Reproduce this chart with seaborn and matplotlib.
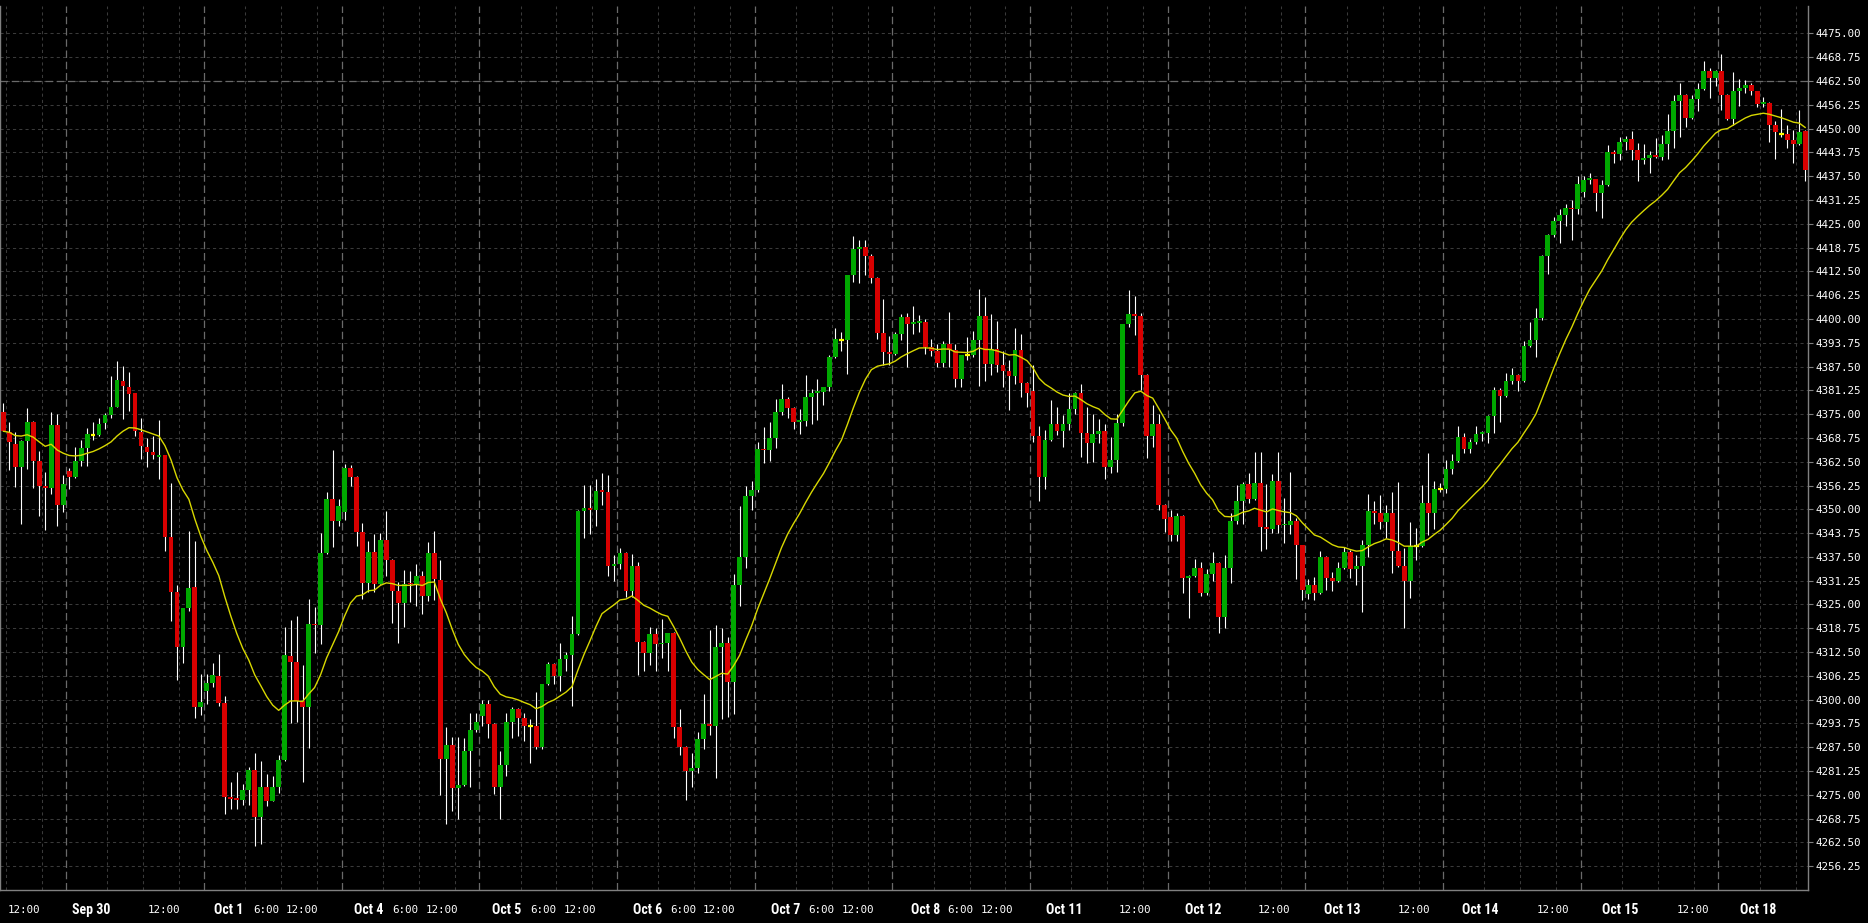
import numpy as np
import pandas as pd
import matplotlib
matplotlib.use("Agg")
import matplotlib.pyplot as plt
import matplotlib.transforms as mtransforms
from matplotlib import font_manager as fm
import seaborn as sns

# ---------------- data (hourly candles) ----------------
opens = [4375.5, 4370.25, 4367.25, 4361, 4368, 4373, 4362.75, 4356, 4355.5, 4372.25,
         4351, 4360, 4358.5, 4362.75, 4366, 4369.5, 4369.5, 4372.75, 4374.75, 4377,
         4383.75, 4382.25, 4380.5, 4370.25, 4366.25, 4365, 4363.75, 4364.25, 4342.75, 4328.25,
         4313.75, 4324, 4329.5, 4298, 4302.25, 4304.25, 4306.25, 4299.25, 4274.5, 4274,
         4273.75, 4276.25, 4281.5, 4269.25, 4277, 4273.5, 4277, 4284.25, 4311.5, 4310,
         4299.75, 4298, 4320, 4319.5, 4338.5, 4352.75, 4347, 4349.25, 4360.75, 4358.5,
         4344, 4330.75, 4338.75, 4330.5, 4342, 4336.75, 4328.5, 4325.5, 4330.75, 4330.25,
         4332.5, 4327.25, 4338.5, 4331.5, 4284.5, 4288, 4276.75, 4277.5, 4286.5, 4292,
         4295.75, 4298.75, 4293.5, 4277, 4282.75, 4294, 4297.5, 4295.25, 4293, 4293,
         4287.5, 4304, 4309.25, 4306.25, 4310.75, 4311.75, 4317.25, 4349.5, 4350.25, 4349.75,
         4354.75, 4354.5, 4335, 4335.75, 4338.5, 4328.5, 4335, 4315.25, 4312.25, 4317.25,
         4314.5, 4314.75, 4317.5, 4292.75, 4287.5, 4281.25, 4282, 4289.75, 4293.5, 4293,
         4313.75, 4315, 4304.75, 4330, 4337.5, 4353.5, 4355, 4365.75, 4365.5, 4368.75,
         4375.5, 4379, 4376.5, 4373, 4373.25, 4379.5, 4380.5, 4380.75, 4382.25, 4390,
         4394.5, 4394.5, 4411.5, 4418.5, 4419, 4416.5, 4410.75, 4396.25, 4391.25, 4390.75,
         4396, 4400.5, 4398.75, 4399, 4399.25, 4392.75, 4391.5, 4388.5, 4393.5, 4391.75,
         4384.25, 4390.5, 4390.5, 4394.5, 4400.75, 4388.25, 4392, 4388, 4386.25, 4385,
         4391.75, 4383.25, 4381, 4369.25, 4358.5, 4368.25, 4372.5, 4370.5, 4372.5, 4376.25,
         4380.5, 4370, 4367.5, 4369.75, 4370.5, 4361, 4363, 4372.75, 4398.75, 4401.25,
         4400.75, 4385.25, 4369.25, 4372.5, 4351, 4348, 4343.25, 4348.25, 4332, 4332.5,
         4334.5, 4328, 4333, 4336, 4321.75, 4334.5, 4347, 4352.25, 4356.75, 4352.75,
         4357, 4345.25, 4344.75, 4357.5, 4345.75, 4346, 4347, 4340.5, 4327.75, 4330,
         4328, 4337.5, 4332, 4331.25, 4334.5, 4338.75, 4334.25, 4335, 4340.5, 4349.5,
         4349, 4346.75, 4349, 4339, 4335, 4331.25, 4340.25, 4340.25, 4351.75, 4349,
         4355.25, 4355.25, 4360.5, 4362.75, 4369, 4365.75, 4367.75, 4369.75, 4370, 4374.5,
         4381.25, 4379.75, 4383.75, 4385.25, 4383.75, 4393, 4394.5, 4400.25, 4416.5, 4422,
         4425.75, 4427.25, 4429.25, 4428.75, 4433.25, 4436.5, 4436.75, 4433, 4435.25, 4443.75,
         4443.25, 4446.5, 4447.25, 4444.5, 4441.75, 4442.25, 4443, 4442.5, 4446, 4449.25,
         4457.25, 4458.75, 4452.75, 4457.75, 4460.5, 4465, 4463.25, 4465.25, 4458.75, 4452.5,
         4460, 4460.75, 4461.5, 4459.75, 4456.5, 4456.75, 4451, 4448.5, 4448.5, 4447,
         4446, 4449.25]
highs = [4378, 4373, 4370.25, 4368.25, 4376.5, 4373.25, 4365.25, 4359.75, 4375.5, 4375,
         4359, 4360.75, 4366.25, 4368.25, 4371.25, 4373, 4374, 4375.25, 4385, 4389,
         4387.75, 4386, 4380.5, 4374, 4368.75, 4369.25, 4373.5, 4364.25, 4357, 4330,
         4324, 4344.25, 4341.75, 4306.75, 4306.75, 4309.5, 4312, 4301, 4278.25, 4281,
         4277.75, 4282.25, 4286, 4284, 4280.5, 4280, 4285.5, 4319, 4321, 4322,
         4309, 4326.5, 4324.25, 4343.75, 4354.5, 4365.5, 4352.75, 4362, 4361.75, 4358.75,
         4346.5, 4341.75, 4343.5, 4343.75, 4349.5, 4337, 4331, 4334, 4333.75, 4335.5,
         4333.75, 4341.5, 4344.25, 4336.75, 4292.75, 4290.25, 4290.25, 4290, 4296.5, 4296.5,
         4300, 4300, 4293.75, 4286.5, 4296.5, 4298, 4297.75, 4296.5, 4295, 4302,
         4304, 4310, 4309.75, 4314.75, 4312.5, 4322, 4349.75, 4356.5, 4356.5, 4358,
         4359.5, 4359, 4338, 4339.75, 4338.75, 4338.25, 4336.25, 4315.5, 4319, 4318.75,
         4321.25, 4317.5, 4317.75, 4297.5, 4287.75, 4286, 4291.5, 4301.5, 4318.25, 4319.5,
         4318.75, 4316.5, 4333, 4350.75, 4356, 4357.5, 4367.75, 4371.5, 4373, 4379,
         4383, 4379.5, 4377, 4376.25, 4385.25, 4381.5, 4384.25, 4382.25, 4390.5, 4397.75,
         4396.5, 4411.5, 4421.75, 4420.75, 4420.75, 4417, 4411, 4405.25, 4395.5, 4396.5,
         4401.25, 4401.5, 4403.5, 4401, 4400, 4394.75, 4393.5, 4394.25, 4401.75, 4393.5,
         4390.5, 4395.25, 4396.75, 4407.75, 4405.75, 4401.25, 4399.5, 4391.5, 4389.25, 4397.75,
         4396, 4383.5, 4388, 4371.75, 4370.75, 4378.75, 4376.75, 4374.75, 4380.5, 4380.75,
         4383, 4377, 4375, 4373.75, 4372.5, 4369, 4375, 4398.75, 4407.5, 4406,
         4401.5, 4385.5, 4377.5, 4375, 4351.5, 4349.75, 4349, 4348.5, 4332.75, 4337,
         4336.25, 4334.25, 4338.75, 4336.25, 4338, 4349, 4356.5, 4357.25, 4359.5, 4365,
         4365, 4356.75, 4359.25, 4365, 4353, 4359.75, 4347.75, 4340.75, 4331.75, 4332.25,
         4339, 4337.75, 4333.5, 4336.25, 4340, 4339.25, 4338, 4342, 4354, 4352.25,
         4353.75, 4351.25, 4354.5, 4357.25, 4339.75, 4346.75, 4345, 4356.5, 4364.75, 4357.5,
         4357, 4363, 4364.5, 4371.75, 4370, 4368.5, 4372, 4370.5, 4374.75, 4382.25,
         4381.75, 4385.75, 4387, 4385.5, 4394.25, 4399.25, 4403, 4416.75, 4422.25, 4426.75,
         4428.75, 4430.25, 4431.25, 4437.5, 4437.5, 4438.25, 4436.75, 4436.5, 4445.75, 4444.25,
         4447.75, 4448, 4449.25, 4446.25, 4446, 4444, 4447.5, 4448.25, 4453.75, 4458.75,
         4462, 4459, 4458.75, 4462, 4467.75, 4466, 4465.5, 4469.5, 4459, 4464.75,
         4463, 4462.75, 4462, 4460, 4458.25, 4457, 4452, 4455.25, 4451, 4449.75,
         4455, 4449.5]
lows = [4370.5, 4360.25, 4355.75, 4346.25, 4360.5, 4355.5, 4348.25, 4344.5, 4354, 4345.5,
        4349.25, 4355.25, 4358.25, 4361.5, 4361.5, 4368.25, 4369.25, 4371, 4374, 4377,
        4373.75, 4375.75, 4369.25, 4363.25, 4361, 4363.25, 4358, 4339, 4320.75, 4305.25,
        4309.5, 4323.25, 4295.25, 4296, 4298.75, 4303.25, 4298.25, 4270, 4271.25, 4271.25,
        4272.25, 4272.25, 4261.5, 4262, 4272, 4273.25, 4275.5, 4284, 4293.75, 4294,
        4278.25, 4287.25, 4312.25, 4314.5, 4338.25, 4340, 4345.5, 4347.25, 4356.25, 4340.25,
        4326.5, 4328.25, 4328.25, 4330.25, 4332.5, 4320.25, 4314.75, 4319, 4325.75, 4324.5,
        4322.5, 4326, 4326.25, 4275, 4267.25, 4270.75, 4268.75, 4277.25, 4277, 4291.5,
        4293, 4290, 4275.25, 4268.75, 4280, 4290, 4290.5, 4289.25, 4283.25, 4287,
        4287, 4303.75, 4304, 4302.25, 4307.5, 4298.25, 4317, 4342.5, 4343.5, 4345.5,
        4351, 4332.5, 4331.25, 4334.25, 4327, 4327, 4306.5, 4307.5, 4309, 4307.5,
        4311, 4307.5, 4290, 4285.5, 4273.75, 4277, 4280.75, 4287, 4290.75, 4279.5,
        4295, 4295.5, 4296.25, 4324.5, 4334.5, 4349.75, 4354.5, 4362.25, 4362.75, 4366,
        4374.75, 4374, 4371, 4369.75, 4372, 4372.5, 4373.5, 4377.5, 4381, 4389.75,
        4391.5, 4385.5, 4409.75, 4409.5, 4411.5, 4409.5, 4394.75, 4388, 4388, 4390.5,
        4394.5, 4387.25, 4396, 4396.5, 4390.75, 4390.25, 4387.25, 4387.25, 4387.25, 4382.25,
        4382.25, 4389.25, 4390, 4382.5, 4383.75, 4385.25, 4386, 4382.25, 4376, 4383,
        4379.5, 4376.75, 4367.75, 4352.25, 4355.25, 4368, 4369.5, 4366.25, 4370.75, 4375,
        4363.75, 4362.25, 4362.5, 4367.5, 4358, 4359.5, 4359.75, 4372, 4398, 4395.75,
        4381.25, 4363.5, 4366.25, 4349.75, 4344, 4341.75, 4341.75, 4328, 4321.5, 4332.25,
        4327.25, 4327.5, 4331.25, 4317.5, 4318.75, 4330.75, 4346.25, 4346.25, 4351.75, 4352.5,
        4339, 4339.5, 4343.75, 4343.75, 4341.25, 4343.5, 4331.75, 4326.25, 4326.5, 4326.25,
        4327.75, 4328.75, 4328.5, 4331, 4334.25, 4332, 4330, 4323, 4337.5, 4346.25,
        4344.75, 4342.5, 4333.25, 4334.75, 4318.75, 4326.75, 4336.75, 4340, 4343.25, 4344.75,
        4354.5, 4354.25, 4359.25, 4362.5, 4364.75, 4364.75, 4367.25, 4368, 4367.5, 4370,
        4373, 4379.5, 4383, 4381, 4383.5, 4392.75, 4390, 4399.75, 4411.75, 4421.5,
        4420, 4424.5, 4420.75, 4427.5, 4432, 4435.5, 4428.25, 4426.5, 4435, 4441,
        4441.75, 4444.25, 4441.75, 4436.25, 4440.75, 4438.25, 4442.25, 4441.75, 4442, 4445,
        4447.75, 4450.5, 4452.5, 4454.5, 4460.25, 4458, 4461.25, 4455, 4452.25, 4451,
        4456, 4459.25, 4458.75, 4455.75, 4455.75, 4446.5, 4442, 4447.75, 4445, 4441,
        4445.75, 4436.25]
closes = [4370.5, 4367.75, 4361, 4368, 4373, 4362.75, 4356, 4355.5, 4372.25, 4351.25,
          4356.75, 4358.5, 4362.75, 4366, 4369.75, 4369.5, 4372.5, 4374.75, 4377, 4384,
          4382.5, 4380.25, 4370.5, 4366.5, 4365, 4364.25, 4364.25, 4342.75, 4328.25, 4313.75,
          4324, 4329.25, 4298, 4299.5, 4304.25, 4306.5, 4299.25, 4274.5, 4274, 4273.75,
          4276.25, 4281.5, 4269.25, 4277, 4273.5, 4277, 4284.25, 4311.75, 4310, 4299.75,
          4298, 4320, 4319.5, 4338.5, 4352.75, 4347, 4350.75, 4360.75, 4358.5, 4344,
          4330.75, 4338.75, 4330.5, 4342, 4336.75, 4328.5, 4325.5, 4330.25, 4330.25, 4332.5,
          4327.25, 4338.5, 4331.75, 4284.5, 4288, 4276.75, 4277.5, 4286.5, 4292, 4294,
          4298.75, 4293.5, 4277, 4282.75, 4294, 4297.5, 4295.25, 4293, 4293, 4287.5,
          4304, 4309.25, 4306.25, 4310.75, 4311.75, 4317.25, 4349.5, 4350.25, 4349.75, 4354.75,
          4354.5, 4335, 4335.75, 4338.5, 4328.5, 4335, 4315.25, 4312.25, 4317.25, 4314.5,
          4314.75, 4317.5, 4292.75, 4287.5, 4281.25, 4282, 4289.75, 4293.5, 4293, 4313.75,
          4315, 4304.75, 4330, 4337.5, 4353.5, 4355, 4365.75, 4365.5, 4368.75, 4375.5,
          4379, 4376.5, 4373, 4373.25, 4379.5, 4380.5, 4380.75, 4382.25, 4390, 4394.75,
          4394.5, 4411.5, 4418.5, 4419, 4416.5, 4410.75, 4396.25, 4391.25, 4390.75, 4396,
          4400.5, 4398.75, 4399, 4399.25, 4392.75, 4391.5, 4388.5, 4393.5, 4391.75, 4384.25,
          4390.5, 4390.5, 4394.5, 4400.75, 4388.25, 4392, 4388, 4386.25, 4385, 4391.75,
          4383.25, 4380.5, 4369.25, 4358.5, 4368.25, 4372.5, 4370.5, 4372.5, 4376.25, 4380.5,
          4370, 4367.5, 4369.75, 4370.5, 4361, 4363, 4372.75, 4398.75, 4401.25, 4400.75,
          4385.25, 4369.25, 4372.5, 4351, 4347.5, 4343.25, 4348.25, 4332, 4332.5, 4334.5,
          4328, 4333, 4336, 4321.75, 4334.5, 4347, 4352.25, 4356.75, 4352.75, 4357,
          4345.25, 4344.75, 4357.5, 4345.75, 4346, 4347, 4340.5, 4328.75, 4330, 4328,
          4337.5, 4332, 4331.25, 4334.5, 4338.75, 4334.25, 4335, 4340.5, 4349.5, 4349,
          4346.75, 4349, 4339, 4335, 4331.25, 4340.25, 4340.25, 4351.75, 4349, 4355.25,
          4355.25, 4360.5, 4362.75, 4369, 4365.75, 4367.75, 4369.75, 4370, 4374.5, 4381.25,
          4379.75, 4383.75, 4385.25, 4383.75, 4393, 4394.5, 4400.25, 4416.5, 4422, 4425.75,
          4427.25, 4429.25, 4428.75, 4435.5, 4436.5, 4436.75, 4433, 4435.25, 4443.75, 4443.25,
          4446.5, 4447.25, 4444.5, 4441.75, 4442.25, 4443, 4442.5, 4446, 4449.25, 4457.25,
          4458.75, 4452.75, 4457.75, 4460.5, 4465, 4463.25, 4465.25, 4458.75, 4452.5, 4460,
          4460.75, 4461.5, 4459.75, 4456.5, 4456.75, 4451, 4449, 4448.5, 4447, 4446,
          4449, 4439.25]

ma_period = 20                   # exponential moving average
bars_per_day = 23
first_full_day_bar = 11          # first bar of the "Sep 30" session
price_ticks = np.arange(4256.25, 4475.01, 6.25)
ref_level = 4462.50

xtick_labels = ["12:00", "Sep 30", "12:00", "Oct 1", "6:00", "12:00", "Oct 4", "6:00", "12:00",
                "Oct 5", "6:00", "12:00", "Oct 6", "6:00", "12:00", "Oct 7", "6:00", "12:00",
                "Oct 8", "6:00", "12:00", "Oct 11", "12:00", "Oct 12", "12:00", "Oct 13", "12:00",
                "Oct 14", "12:00", "Oct 15", "12:00", "Oct 18"]
xtick_pos = [3.5, 14.6, 26.8, 37.7, 43.9, 49.9, 61.0, 67.1, 73.2,
             84.1, 90.2, 96.4, 107.6, 113.5, 119.6, 130.7, 136.6, 142.7,
             154.0, 159.9, 165.9, 177.2, 189.1, 200.5, 212.3, 223.7, 235.6,
             246.7, 258.9, 270.0, 282.2, 293.1]

# ---------------- style ----------------
sns.set_theme(style="dark", rc={
    "figure.facecolor": "black", "axes.facecolor": "black",
    "axes.edgecolor": "#808080", "savefig.facecolor": "black",
})

avail = {f.name for f in fm.fontManager.ttflist}
mono = fm.FontProperties(family="DejaVu Sans Mono", size=7.8)
date_fp = None
for fam, sz in (("Liberation Sans Narrow", 11.0), ("Roboto Condensed", 10.0),
                ("Open Sans Condensed", 10.0)):
    if fam in avail:
        date_fp = fm.FontProperties(family=fam, weight="bold", size=sz)
        break
if date_fp is None:
    cond = [f.fname for f in fm.fontManager.ttflist
            if "DejaVuSansCondensed-Bold.ttf" in f.fname]
    if cond:
        date_fp = fm.FontProperties(fname=cond[0], size=9.2)
    else:
        date_fp = fm.FontProperties(family="DejaVu Sans", weight="bold", size=8.6)

df = pd.DataFrame({"open": opens, "high": highs, "low": lows, "close": closes})
df["x"] = np.arange(len(df))
df["ma"] = df["close"].ewm(span=ma_period, adjust=False).mean()
n = len(df)

fig = plt.figure(figsize=(18.68, 9.23), dpi=100)
ax = fig.add_axes([0.0, 0.03575, 0.96788, 0.95775])
ax.set_facecolor("black")

# grid: horizontal dotted at each price tick
for p in price_ticks:
    ax.axhline(p, color="#3a3a3a", lw=0.75, ls=(0, (3, 3)), zorder=0)
# day separators and 6-hour dotted verticals
day_starts = [first_full_day_bar - bars_per_day] + \
    list(range(first_full_day_bar, n, bars_per_day))
for k, d in enumerate(day_starts):
    if k > 0:
        ax.axvline(d - 0.5, color="#6a6a6a", lw=0.9, ls=(0, (6, 3)), zorder=0.5)
    for off in (6.4, 12.4, 18.4):
        xv = d + off
        if -0.5 < xv < n:
            ax.axvline(xv, color="#3a3a3a", lw=0.75, ls=(0, (3, 3)), zorder=0)
ax.axhline(ref_level, color="#6a6a6a", lw=0.9, ls=(0, (6, 3)), zorder=0.5)

# candles
up = df["close"] > df["open"]
down = df["close"] < df["open"]
doji = df["close"] == df["open"]
ax.vlines(df["x"], df["low"], df["high"], color="white", lw=0.8, zorder=2)
body_lo = np.minimum(df["open"], df["close"])
body_h = np.maximum((df["close"] - df["open"]).abs(), 0.45)
ax.bar(df["x"][up], body_h[up], bottom=body_lo[up], width=0.8,
       color="#00a800", linewidth=0, zorder=3)
ax.bar(df["x"][down], body_h[down], bottom=body_lo[down], width=0.8,
       color="#d80000", linewidth=0, zorder=3)
ax.hlines(df["close"][doji], df["x"][doji] - 0.4, df["x"][doji] + 0.4,
          color="#ffff00", lw=1.6, zorder=3)

# moving average
sns.lineplot(data=df, x="x", y="ma", ax=ax, color="#d8d800", lw=1.0, zorder=4)

ax.set_xlim(-0.55, n - 0.55)
ax.set_ylim(4250.0, 4482.2)
ax.set_xlabel("")
ax.set_ylabel("")

# axes frame
ax.spines["top"].set_visible(False)
for s in ("right", "bottom", "left"):
    ax.spines[s].set_visible(True)
    ax.spines[s].set_color("#808080")
    ax.spines[s].set_linewidth(1.0)

ax.yaxis.tick_right()
ax.set_yticks(price_ticks)
ax.set_yticklabels([f"{p:.2f}" for p in price_ticks])
ax.tick_params(axis="y", which="both", right=True, left=False, length=3.5, width=0.8,
               color="#808080", labelcolor="white", pad=2, direction="out")
for lab in ax.get_yticklabels():
    lab.set_fontproperties(mono)
ax.set_xticks([])

trans = mtransforms.blended_transform_factory(ax.transData, fig.transFigure)
for lab, xp in zip(xtick_labels, xtick_pos):
    fp = date_fp if lab[0].isalpha() else mono
    ax.text(xp, 0.0145, lab, transform=trans, ha="center", va="center",
            color="white", fontproperties=fp, clip_on=False)

fig.savefig("out.png", dpi=100, facecolor="black")
